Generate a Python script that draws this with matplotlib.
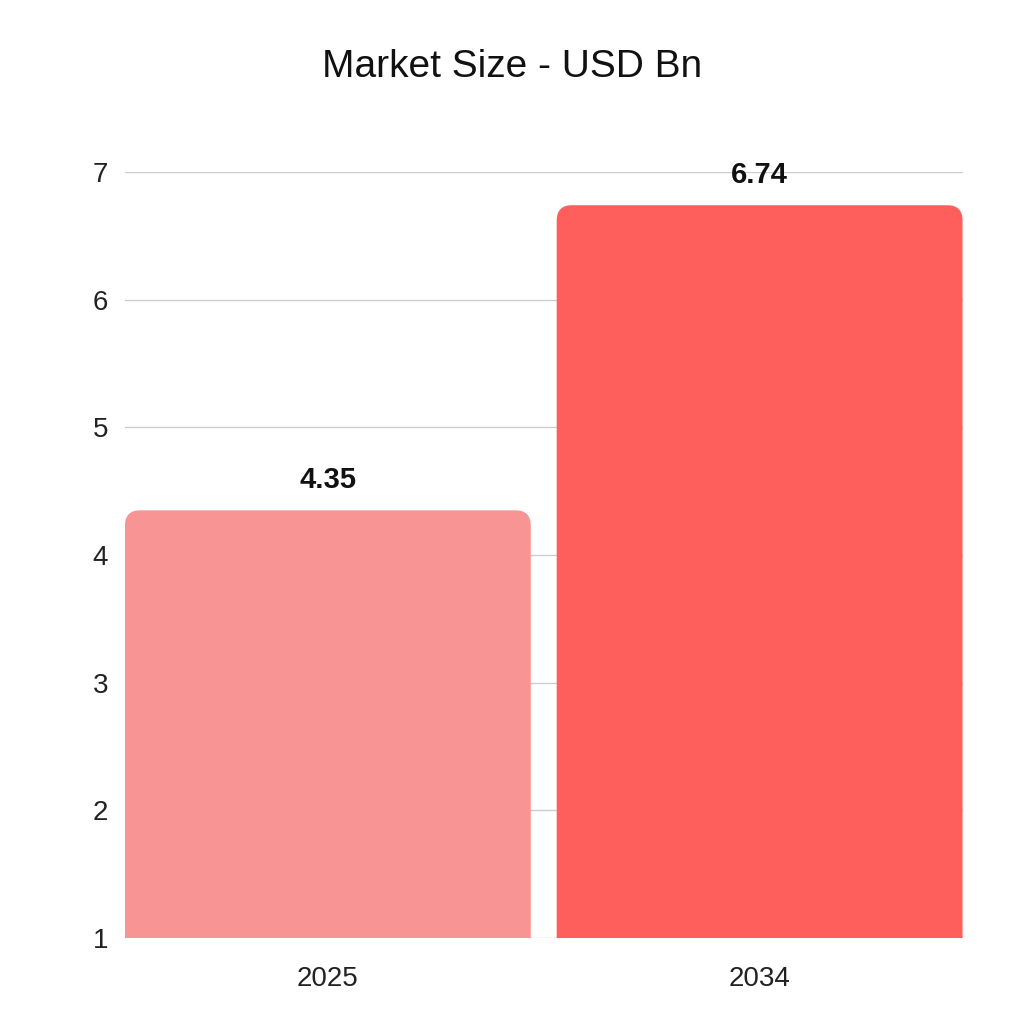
import matplotlib.pyplot as plt
from matplotlib.path import Path
from matplotlib.patches import PathPatch

years = ["2025", "2034"]
market_size = [4.35, 6.74]
bar_colors = ["#F99494", "#FE5F5D"]
y_ticks = [1, 2, 3, 4, 5, 6, 7]

plt.rcParams['font.family'] = ['Liberation Sans', 'DejaVu Sans']


def rounded_top(x0, y0, w, h, rx, ry):
    '''
    Bar outline with rounded top corners and a square bottom
    '''
    verts = [(x0, y0), (x0, y0 + h - ry), (x0, y0 + h), (x0 + rx, y0 + h),
             (x0 + w - rx, y0 + h), (x0 + w, y0 + h), (x0 + w, y0 + h - ry),
             (x0 + w, y0), (x0, y0)]
    codes = [Path.MOVETO, Path.LINETO, Path.CURVE3, Path.CURVE3,
             Path.LINETO, Path.CURVE3, Path.CURVE3, Path.LINETO, Path.CLOSEPOLY]
    return Path(verts, codes)


fig = plt.figure(figsize=(10.24, 10.24), dpi=100, facecolor='white')
ax = fig.add_axes([0.122, 0.084, 0.818, 0.748])

width = 0.94
base = 1
x = list(range(len(years)))

# plain bars give the geometry, then swap them for rounded-top patches
bars = ax.bar(x, [v - base for v in market_size], bottom=base, width=width,
              color=bar_colors, zorder=2)
rx, ry = 0.035, 0.12
for b, c in zip(bars, bar_colors):
    b.set_visible(False)
    p = rounded_top(b.get_x(), b.get_y(), b.get_width(), b.get_height(), rx, ry)
    ax.add_patch(PathPatch(p, facecolor=c, edgecolor='none', zorder=2))

for xi, v in zip(x, market_size):
    ax.annotate("%.2f" % v, (xi, v), xytext=(0, 12), textcoords='offset points',
                ha='center', va='bottom', fontsize=21, fontweight='bold', color='#111111')

ax.set_xlim(-width / 2, len(years) - 1 + width / 2)
ax.set_ylim(1, 7)
ax.set_yticks(y_ticks)
ax.set_xticks(x)
ax.set_xticklabels(years)
ax.grid(axis='y', color='#cccccc', lw=1, zorder=0)
ax.set_axisbelow(True)
for s in ax.spines.values():
    s.set_visible(False)
ax.tick_params(axis='both', length=0, labelsize=20, colors='#222222')
ax.tick_params(axis='y', pad=12)
ax.tick_params(axis='x', pad=20)

fig.suptitle("Market Size - USD Bn", y=0.952, fontsize=28, color='#111111')

plt.savefig("out.png", dpi=100, facecolor='white')
plt.close()
